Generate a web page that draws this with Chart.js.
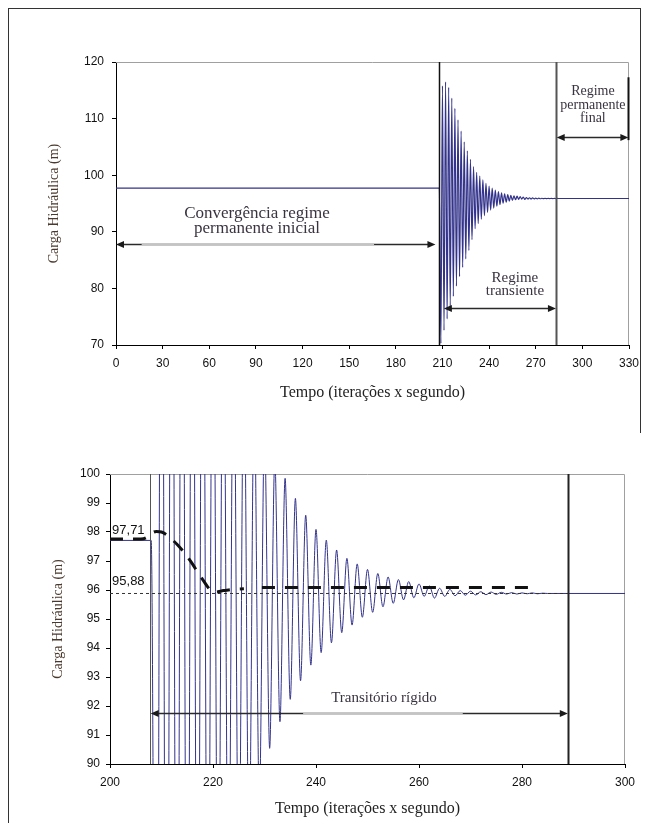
<!DOCTYPE html>
<html>
<head>
<meta charset="utf-8">
<script src="https://cdn.jsdelivr.net/npm/chart.js@4.4.1/dist/chart.umd.min.js"></script>
<style>
html,body{margin:0;padding:0;background:#fff;}
body{width:650px;height:823px;position:relative;overflow:hidden;}
#frame{position:absolute;left:8px;top:8px;width:632px;height:830px;border-left:1.5px solid #333;border-top:1.5px solid #333;box-sizing:border-box;}
#frameR{position:absolute;left:640px;top:8px;width:0;height:425px;border-left:1.5px solid #333;}
#w1{position:absolute;left:0;top:0;width:650px;height:420px;}
#w2{position:absolute;left:0;top:420px;width:650px;height:403px;}
canvas{display:block;}
</style>
</head>
<body>
<div id="frame"></div>
<div id="frameR"></div>
<div id="w1"><canvas id="c1" width="650" height="420"></canvas></div>
<div id="w2"><canvas id="c2" width="650" height="403"></canvas></div>
<script>
// ---------------- DATA ----------------
const initialHead = 97.71;          // regime permanente inicial (m)
const finalHead = 95.88;            // regime permanente final (m)
const steadyTime = [0, 208];
const finalTime = [330];

// extremes of the elastic transient (time, head)
const transientTime = [209,210,211,212,213,214,215,216,217,218,219,220,221,222,223,224,225,226,227,228,
  229,230,231,232,233,234,235,236,237,238,239,240,241,242,243,244,245,246,247,248,249,250,251,252,253,254,
  255,256,257,258,259,260,261,262,263,264,265,266,267,268,269,270,271,272,273,274,275,276,277,278,279,280,
  281,282,283,284,285];
const transientHead = [70.3,115.8,72.6,116.5,74.6,115.5,76.6,113.6,78.6,111.8,80.4,109.8,82.1,107.8,83.7,105.9,
  85.2,104.3,86.7,102.8,88.6,101.5,90.54,100.5,91.46,99.85,92.23,99.16,92.87,98.58,93.41,98.09,93.84,97.72,
  94.18,97.38,94.53,97.09,94.79,96.90,95.06,96.71,95.23,96.57,95.42,96.45,95.54,96.36,95.66,96.29,95.73,96.21,
  95.78,96.14,95.72,96.06,95.78,96.02,95.80,95.98,95.82,95.96,95.83,95.94,95.84,95.93,95.85,95.92,95.86,95.91,
  95.86,95.90,95.87,95.90,95.87,95.89,95.88];

// rigid-column transient (dashed)
const rigidTime = [200,206,207,208,209,210,211,212,213,214,215,216,217,218,219,220,221,222,223,224,225,226,227,229.5,282];
const rigidHead = [97.76,97.76,97.8,97.95,98.02,98.0,97.9,97.75,97.58,97.38,97.15,96.9,96.62,96.36,96.1,95.92,95.94,95.98,96.0,96.02,96.03,96.04,null,96.09,96.09];

// reference level 95,88 (thin dashed)
const refTime = [200, 288.9];
const refHead = [95.88, 95.88];

// tick labels
const topXTicks = [0,30,60,90,120,150,180,210,240,270,300,330];
const topYTicks = [70,80,90,100,110,120];
const botXTicks = [200,220,240,260,280,300];
const botYTicks = [90,91,92,93,94,95,96,97,98,99,100];

// ---------------- BUILD ----------------
function pts(xs, ys){ return xs.map((x,i)=>({x:x, y:ys[i]})); }
const headSeries = []
  .concat(steadyTime.map(t=>({x:t,y:initialHead})))
  .concat(pts(transientTime, transientHead))
  .concat(finalTime.map(t=>({x:t,y:finalHead})));

const BLUE = '#33338c';
const SERIF = '"Liberation Serif","Times New Roman",serif';
const SANS = '"Liberation Sans",Arial,sans-serif';

function makeAnnot(spec){
  return {
    id: 'annot',
    beforeDatasetsDraw(chart){
      const {ctx, chartArea:a} = chart;
      ctx.save();
      ctx.strokeStyle = '#a0a0a0'; ctx.lineWidth = 1;
      ctx.beginPath();
      ctx.moveTo(a.left, a.top+0.5); ctx.lineTo(a.right-0.5, a.top+0.5); ctx.lineTo(a.right-0.5, a.bottom);
      ctx.stroke();
      ctx.restore();
    },
    afterDatasetsDraw(chart){
      const {ctx} = chart; const xs = chart.scales.x, ys = chart.scales.y;
      ctx.save();
      (spec.vlines||[]).forEach(v=>{
        const px = Math.round(xs.getPixelForValue(v.x))+0.5;
        ctx.strokeStyle = v.color; ctx.lineWidth = v.width;
        ctx.beginPath(); ctx.moveTo(px, ys.getPixelForValue(v.y1)); ctx.lineTo(px, ys.getPixelForValue(v.y2)); ctx.stroke();
      });
      (spec.arrows||[]).forEach(ar=>{
        const y = Math.round(ys.getPixelForValue(ar.y))+0.5;
        const x1 = xs.getPixelForValue(ar.x1), x2 = xs.getPixelForValue(ar.x2);
        ctx.strokeStyle = '#2a2a2a'; ctx.lineWidth = 1.3;
        ctx.beginPath(); ctx.moveTo(x1+4, y); ctx.lineTo(x2-4, y); ctx.stroke();
        if (ar.light){
          ctx.strokeStyle = '#c4c4c4';
          ctx.beginPath(); ctx.moveTo(xs.getPixelForValue(ar.light[0]), y); ctx.lineTo(xs.getPixelForValue(ar.light[1]), y); ctx.stroke();
        }
        ctx.fillStyle = '#1a1a1a';
        [[x1,-1],[x2,1]].forEach(([x,d])=>{
          ctx.beginPath(); ctx.moveTo(x, y); ctx.lineTo(x-d*8, y-3.5); ctx.lineTo(x-d*8, y+3.5); ctx.closePath(); ctx.fill();
        });
      });
      (spec.texts||[]).forEach(t=>{
        ctx.font = t.font; ctx.fillStyle = t.color || '#2b2b2b';
        ctx.textAlign = t.align || 'center'; ctx.textBaseline = 'middle';
        ctx.fillText(t.text, xs.getPixelForValue(t.x), ys.getPixelForValue(t.y));
      });
      ctx.restore();
    }
  };
}

function axisCommon(ticksArr, min, max, pad){
  return {
    type: 'linear', min: min, max: max,
    afterBuildTicks: s => { s.ticks = ticksArr.map(v=>({value:v})); },
    grid: {drawOnChartArea:false, drawTicks:true, tickLength:4, color:'#000', tickColor:'#000'},
    border: {display:true, color:'#000', width:1},
    ticks: {autoSkip:false, maxRotation:0, padding:pad, color:'#111', font:{family:SANS, size:12}}
  };
}

function makeChart(id, opts){
  const xAx = axisCommon(opts.xTicks, opts.xMin, opts.xMax, 7);
  xAx.title = {display:true, text:'Tempo (iterações x segundo)', color:'#222', font:{family:SERIF, size:opts.xTitleSize}, padding:{top:4,bottom:4}};
  xAx.afterFit = s => { s.height = opts.xH; };
  const yAx = axisCommon(opts.yTicks, opts.yMin, opts.yMax, opts.yPad);
  yAx.title = {display:true, text:'Carga Hidráulica (m)', color:'#4a382c', font:{family:SERIF, size:14}, padding:{top:4,bottom:4}};
  yAx.afterFit = s => { s.width = opts.yW; };
  return new Chart(document.getElementById(id), {
    type: 'line',
    data: { datasets: opts.datasets },
    options: {
      responsive:false, animation:false, devicePixelRatio:1,
      layout: {padding: opts.padding},
      plugins: {legend:{display:false}, tooltip:{enabled:false}},
      elements: {point:{radius:0}},
      scales: {x:xAx, y:yAx}
    },
    plugins: [makeAnnot(opts.annot)]
  });
}

const blueDataset = (w) => ({
  data: headSeries, borderColor: BLUE, borderWidth: w, pointRadius: 0,
  cubicInterpolationMode: 'monotone', fill: false, order: 3
});

// ---------- top chart ----------
makeChart('c1', {
  xTicks: topXTicks, xMin: 0, xMax: 330,
  yTicks: topYTicks, yMin: 70, yMax: 120,
  yPad: 8, xTitleSize: 16, xH: 61, yW: 74,
  padding: {left: 42, right: 21, top: 62, bottom: 14},
  datasets: [blueDataset(1.2)],
  annot: {
    vlines: [
      {x: 207.6, y1: 70, y2: 120, color: '#111', width: 1.5},
      {x: 283, y1: 70, y2: 120, color: '#555', width: 2},
      {x: 329.6, y1: 106.2, y2: 117.3, color: '#111', width: 2}
    ],
    arrows: [
      {y: 87.84, x1: 0, x2: 205.5, light: [16.5, 166]},
      {y: 76.48, x1: 210.9, x2: 283},
      {y: 106.8, x1: 283.5, x2: 329.6}
    ],
    texts: [
      {text: 'Convergência regime', x: 90.7, y: 93.3, font: '17px '+SERIF, color:'#3a3340'},
      {text: 'permanente inicial', x: 90.7, y: 90.5, font: '17px '+SERIF, color:'#3a3340'},
      {text: 'Regime', x: 256.6, y: 81.9, font: '15px '+SERIF, color:'#3a3340'},
      {text: 'transiente', x: 256.6, y: 79.5, font: '15px '+SERIF, color:'#3a3340'},
      {text: 'Regime', x: 306.8, y: 114.75, font: '14px '+SERIF, color:'#3a3340'},
      {text: 'permanente', x: 306.8, y: 112.3, font: '14px '+SERIF, color:'#3a3340'},
      {text: 'final', x: 306.8, y: 110.0, font: '14px '+SERIF, color:'#3a3340'}
    ]
  }
});

// ---------- bottom chart ----------
makeChart('c2', {
  xTicks: botXTicks, xMin: 200, xMax: 300,
  yTicks: botYTicks, yMin: 90, yMax: 100,
  yPad: 6, xTitleSize: 16, xH: 58, yW: 64,
  padding: {left: 46, right: 25, top: 54, bottom: 1},
  datasets: [
    blueDataset(1),
    {data: pts(refTime, refHead), borderColor:'#333', borderWidth:1, borderDash:[3,3], pointRadius:0, order:2},
    {data: pts(rigidTime, rigidHead), borderColor:'#111', borderWidth:3, borderDash:[13,10], pointRadius:0,
     cubicInterpolationMode:'monotone', spanGaps:false, order:1}
  ],
  annot: {
    vlines: [
      {x: 207.8, y1: 90, y2: 100, color: '#555', width: 1},
      {x: 288.9, y1: 90, y2: 100, color: '#222', width: 2}
    ],
    arrows: [
      {y: 91.77, x1: 207.9, x2: 288.9, light: [237.5, 268.5]}
    ],
    texts: [
      {text: '97,71', x: 200.4, y: 98.07, font: '13px '+SANS, color:'#111', align:'left'},
      {text: '95,88', x: 200.4, y: 96.28, font: '13px '+SANS, color:'#111', align:'left'},
      {text: 'Transitório rígido', x: 253.2, y: 92.28, font: '15px '+SERIF, color:'#3a3340'}
    ]
  }
});
</script>
</body>
</html>
